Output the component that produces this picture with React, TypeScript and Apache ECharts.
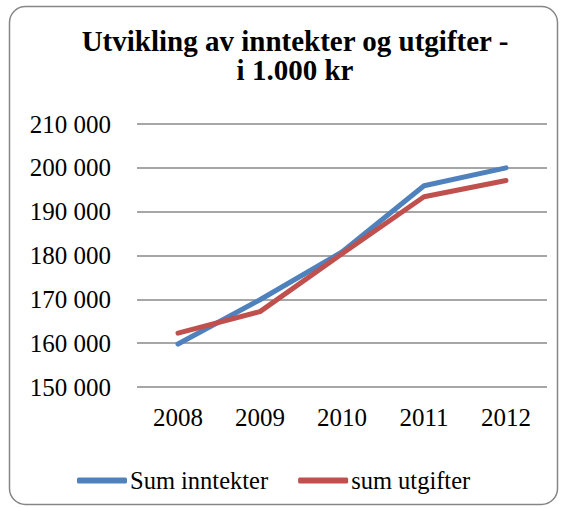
import React, { useEffect, useRef } from "react";
import * as echarts from "echarts";

const categories = ["2008", "2009", "2010", "2011", "2012"];
const inntekter = [159800, 169900, 180800, 195900, 200000];
const utgifter = [162300, 167200, 180400, 193400, 197100];
const seriesNames = ["Sum inntekter", "sum utgifter"];
const titleText = "Utvikling av inntekter og utgifter -\ni 1.000 kr";

const FONT = "Times New Roman, Liberation Serif, serif";

export default function App() {
  const ref = useRef<HTMLDivElement>(null);
  useEffect(() => {
    if (!ref.current) return;
    const chart = echarts.init(ref.current, null, { renderer: "svg" });
    chart.setOption({
      animation: false,
      backgroundColor: "#fff",
      textStyle: { fontFamily: FONT },
      title: {
        text: titleText,
        left: 290,
        textAlign: "center",
        top: 21,
        textStyle: {
          fontFamily: FONT,
          fontSize: 29,
          fontWeight: "bold",
          color: "#000",
          lineHeight: 29,
        },
      },
      graphic: [
        {
          type: "rect",
          shape: { x: 9.5, y: 6.5, width: 548, height: 498, r: 16 },
          style: { fill: "none", stroke: "#868686", lineWidth: 1.5 },
          silent: true,
        },
      ],
      legend: {
        left: 72,
        top: 463,
        icon: "roundRect",
        itemWidth: 50,
        itemHeight: 6,
        itemGap: 30,
        textStyle: { fontFamily: FONT, fontSize: 24.5, color: "#000", padding: [0, 0, 0, -2] },
        data: seriesNames,
      },
      grid: { left: 137, right: 20, top: 124, bottom: 121 },
      xAxis: {
        type: "category",
        data: categories,
        boundaryGap: true,
        axisLine: { show: false },
        axisTick: { show: false },
        axisLabel: { fontFamily: FONT, fontSize: 25, color: "#000", margin: 18 },
      },
      yAxis: {
        type: "value",
        min: 150000,
        max: 210000,
        interval: 10000,
        axisLine: { show: false },
        axisTick: { show: false },
        splitLine: { lineStyle: { color: "#888888", width: 1.5 } },
        axisLabel: {
          fontFamily: FONT,
          fontSize: 25,
          color: "#000",
          margin: 26,
          formatter: (v: number) => {
            const s = String(Math.round(v));
            return s.slice(0, s.length - 3) + " " + s.slice(s.length - 3);
          },
        },
      },
      series: [
        {
          name: seriesNames[0],
          type: "line",
          data: inntekter,
          symbol: "none",
          color: "#4F81BD",
          lineStyle: { width: 5, color: "#4F81BD", cap: "round" },
        },
        {
          name: seriesNames[1],
          type: "line",
          data: utgifter,
          symbol: "none",
          color: "#C0504D",
          lineStyle: { width: 5, color: "#C0504D", cap: "round" },
        },
      ],
    });
    return () => chart.dispose();
  }, []);
  return (
    <div
      ref={ref}
      style={{ position: "fixed", left: 0, top: 0, width: 567, height: 508 }}
    />
  );
}
